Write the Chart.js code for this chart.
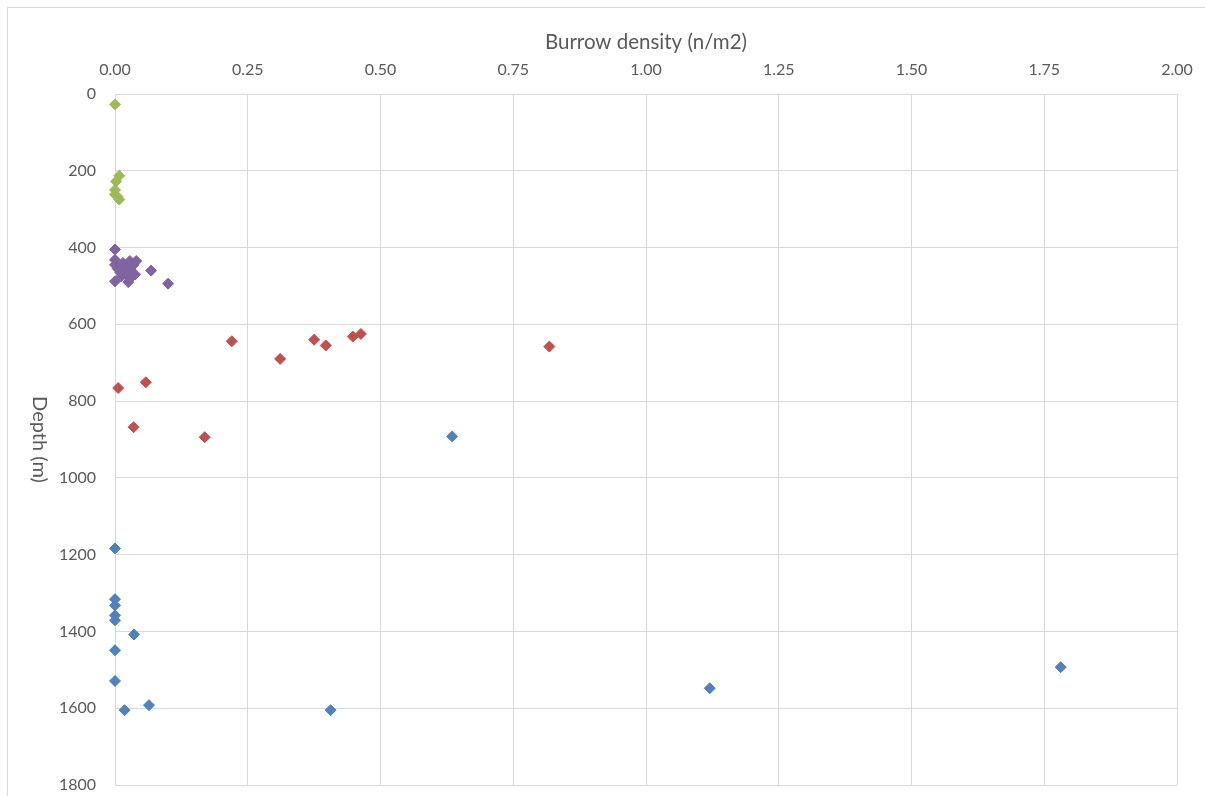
<!DOCTYPE html>
<html>
<head>
<meta charset="utf-8">
<script src="https://cdn.jsdelivr.net/npm/chart.js@4"></script>
<style>
  html, body { margin: 0; padding: 0; background: #fff; }
  #frame { position: absolute; left: 7px; top: 7px; width: 1300px; height: 900px; border: 1px solid #D9D9D9; }
  #chart { position: absolute; left: 0; top: 0; }
</style>
</head>
<body>
<div id="frame"></div>
<canvas id="chart" width="1205" height="796"></canvas>
<script>
// Burrow density (n/m2) vs depth (m), four groups of stations
const blueDensity = [0.635, 0, 0, 0, 0, 0, 0.036, 0, 0, 0.018, 0.064, 0.406, 1.120, 1.781];
const blueDepth   = [892, 1184, 1316, 1332, 1358, 1371, 1408, 1449, 1529, 1605, 1592, 1605, 1548, 1493];

const redDensity = [0.220, 0.311, 0.375, 0.397, 0.448, 0.463, 0.818, 0.006, 0.058, 0.035, 0.169];
const redDepth   = [644, 690, 640, 655, 632, 625, 658, 766, 751, 868, 894];

const greenDensity = [0, 0.008, 0.002, 0, 0, 0.005, 0.008];
const greenDepth   = [27, 213, 228, 250, 262, 268, 275];

const purpleDensity = [0, 0, 0, 0.005, 0.010, 0.015, 0.020, 0.025, 0.028, 0.030, 0.030, 0.035, 0.038, 0.040, 0.025, 0, 0.068, 0.100, 0.012, 0.020];
const purpleDepth   = [405, 432, 445, 455, 465, 440, 470, 450, 435, 478, 460, 445, 470, 435, 490, 488, 460, 494, 475, 455];

const xTicks = [0, 0.25, 0.5, 0.75, 1, 1.25, 1.5, 1.75, 2];

function toPoints(xs, ys) {
  return xs.map((x, i) => ({ x: x, y: ys[i] }));
}

function series(label, xs, ys, color) {
  return {
    label: label,
    data: toPoints(xs, ys),
    pointStyle: 'rectRot',
    pointRadius: 5.5,
    pointHoverRadius: 5.5,
    backgroundColor: color,
    borderColor: color,
    borderWidth: 1,
    clip: false
  };
}

const textColor = '#595959';
const gridColor = '#D9D9D9';
const fontFamily = 'Lato, "Open Sans", sans-serif';

// y axis title reads top to bottom, as in the original
const yTitle = {
  id: 'yTitle',
  afterDraw(chart) {
    const ctx = chart.ctx;
    const area = chart.chartArea;
    ctx.save();
    ctx.translate(39, (area.top + area.bottom) / 2);
    ctx.rotate(Math.PI / 2);
    ctx.font = '20px ' + fontFamily;
    ctx.fillStyle = textColor;
    ctx.textAlign = 'center';
    ctx.textBaseline = 'middle';
    ctx.fillText('Depth (m)', 0, 0);
    ctx.restore();
  }
};

new Chart(document.getElementById('chart').getContext('2d'), {
  type: 'scatter',
  data: {
    datasets: [
      series('Blue', blueDensity, blueDepth, '#4F81BD'),
      series('Red', redDensity, redDepth, '#C0504D'),
      series('Green', greenDensity, greenDepth, '#9BBB59'),
      series('Purple', purpleDensity, purpleDepth, '#8064A2')
    ]
  },
  options: {
    responsive: false,
    animation: false,
    layout: { padding: { left: 0, top: 0, right: 28, bottom: 11 } },
    plugins: {
      legend: { display: false },
      tooltip: { enabled: false }
    },
    scales: {
      x: {
        type: 'linear',
        position: 'top',
        min: 0,
        max: 2,
        afterBuildTicks(scale) { scale.ticks = xTicks.map(v => ({ value: v })); },
        afterFit(scale) {
          scale.height = 94;
          scale.paddingLeft = 0;
          scale.paddingRight = 0;
        },
        grid: { color: gridColor, drawTicks: false },
        border: { color: gridColor },
        ticks: {
          color: textColor,
          font: { family: fontFamily, size: 16 },
          padding: 15,
          maxRotation: 0,
          callback: v => Number(v).toFixed(2)
        },
        title: {
          display: true,
          text: 'Burrow density (n/m2)',
          color: textColor,
          font: { family: fontFamily, size: 20.5 },
          padding: { top: 30, bottom: 0 }
        }
      },
      y: {
        type: 'linear',
        reverse: true,
        min: 0,
        max: 1800,
        afterFit(scale) {
          scale.width = 115;
          scale.paddingTop = 0;
          scale.paddingBottom = 0;
        },
        grid: { color: gridColor, drawTicks: false },
        border: { color: gridColor },
        ticks: {
          stepSize: 200,
          color: textColor,
          font: { family: fontFamily, size: 16 },
          padding: 19,
          callback: v => String(v)
        }
      }
    }
  },
  plugins: [yTitle]
});
</script>
</body>
</html>
